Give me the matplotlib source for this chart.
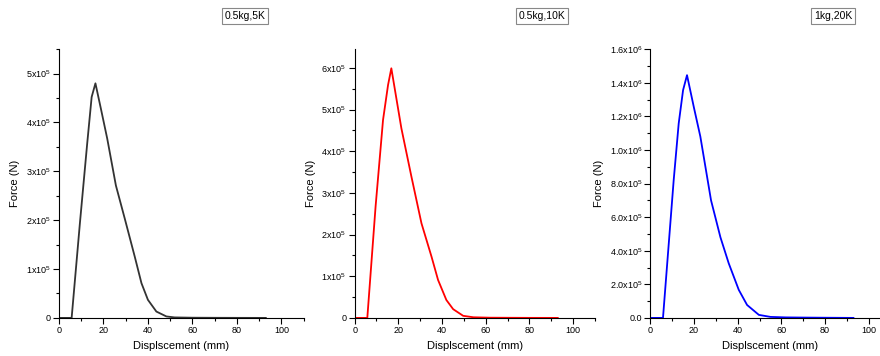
import numpy as np
import matplotlib
matplotlib.use("Agg")
import matplotlib.pyplot as plt
from matplotlib.ticker import MultipleLocator

plt.rcParams.update({"font.family": ["Liberation Sans", "DejaVu Sans"],
                     "mathtext.default": "regular", "font.size": 8})

# displacement (mm) / force (N)
x_5k = [0, 5.7, 9.4, 12.7, 14.7, 16.4, 19.0, 21.7, 25.6, 29.6, 34.1, 37.1, 40.0, 43.8, 48.3, 52, 60, 70, 80, 93]
f_5k = [0, 0, 1.93e5, 3.57e5, 4.52e5, 4.80e5, 4.25e5, 3.67e5, 2.71e5, 2.03e5, 1.25e5, 0.71e5, 0.37e5, 0.13e5,
        0.03e5, 0.01e5, 0.004e5, 0.002e5, 0.001e5, 0]

x_10k = [0, 5.8, 9.6, 13.0, 15.3, 16.8, 21.4, 26.0, 30.6, 35.2, 38.2, 42.0, 45.1, 49.7, 54.4, 62, 70, 80, 93]
f_10k = [0, 0, 2.68e5, 4.75e5, 5.59e5, 5.99e5, 4.55e5, 3.39e5, 2.27e5, 1.47e5, 0.91e5, 0.43e5, 0.21e5,
         0.05e5, 0.015e5, 0.005e5, 0.003e5, 0.001e5, 0]

x_20k = [0, 5.8, 10.7, 13.0, 15.0, 16.8, 20.0, 22.9, 27.8, 32.1, 35.9, 40.5, 44.3, 49.7, 55, 62, 70, 80, 93]
f_20k = [0, 0, 0.82e6, 1.158e6, 1.356e6, 1.445e6, 1.25e6, 1.08e6, 0.70e6, 0.48e6, 0.325e6, 0.167e6, 0.077e6,
         0.018e6, 0.006e6, 0.003e6, 0.002e6, 0.001e6, 0]

ticks_5 = [0, 1e5, 2e5, 3e5, 4e5, 5e5]
labels_5 = ["0", "1x10$^5$", "2x10$^5$", "3x10$^5$", "4x10$^5$", "5x10$^5$"]
ticks_6 = [0, 1e5, 2e5, 3e5, 4e5, 5e5, 6e5]
labels_6 = labels_5 + ["6x10$^5$"]
ticks_16 = [0, 2e5, 4e5, 6e5, 8e5, 1e6, 1.2e6, 1.4e6, 1.6e6]
labels_16 = ["0.0", "2.0x10$^5$", "4.0x10$^5$", "6.0x10$^5$", "8.0x10$^5$",
             "1.0x10$^6$", "1.2x10$^6$", "1.4x10$^6$", "1.6x10$^6$"]

panels = [
    (x_5k, f_5k, "#333333", "0.5kg,5K", ticks_5, labels_5, 5.5e5, 0.5e5, [0.067, 0.107, 0.278, 0.755], 245),
    (x_10k, f_10k, "#ff0000", "0.5kg,10K", ticks_6, labels_6, 6.45e5, 0.5e5, [0.403, 0.107, 0.273, 0.755], 542),
    (x_20k, f_20k, "#0000ff", "1kg,20K", ticks_16, labels_16, 1.6e6, 1e5, [0.739, 0.107, 0.273, 0.755], 833),
]

fig = plt.figure(figsize=(8.8, 3.56), dpi=100)
for xs, ys, col, title, yt, yl, ytop, yminor, rect, tx in panels:
    ax = fig.add_axes(rect)
    ax.plot(xs, ys, color=col, lw=1.3)
    ax.set_xlim(0, 110)
    ax.set_ylim(0, ytop)
    ax.set_xticks([0, 20, 40, 60, 80, 100])
    ax.xaxis.set_minor_locator(MultipleLocator(10))
    ax.set_yticks(yt, yl)
    ax.yaxis.set_minor_locator(MultipleLocator(yminor))
    ax.tick_params(which="major", direction="out", length=4, width=0.8, labelsize=6.5, pad=2)
    ax.tick_params(which="minor", direction="out", length=2, width=0.8)
    for s in ("top", "right"):
        ax.spines[s].set_visible(False)
    ax.set_xlabel("Displscement (mm)", fontsize=8, labelpad=4)
    ax.set_ylabel("Force (N)", fontsize=8, labelpad=4)
    fig.text(tx / 880, 1 - 16 / 356, title, ha="center", va="center", fontsize=7.5,
             bbox=dict(boxstyle="square,pad=0.25", fc="white", ec="#888888", lw=0.8))

fig.savefig("out.png", dpi=100)
